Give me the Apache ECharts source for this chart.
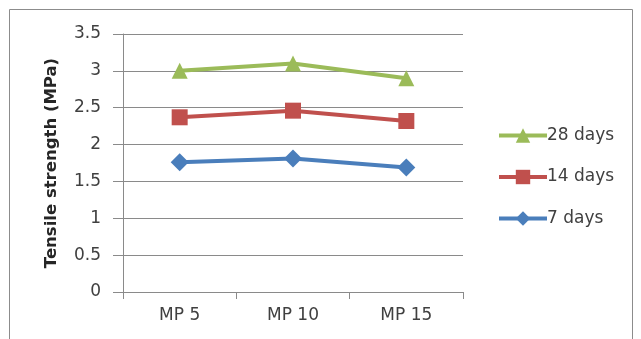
<!DOCTYPE html>
<html>
<head>
<meta charset="utf-8">
<style>
  html, body { margin: 0; padding: 0; background: #ffffff; }
  #chart { width: 641px; height: 339px; }
</style>
<script src="https://cdn.jsdelivr.net/npm/echarts@6/dist/echarts.min.js"></script>
</head>
<body>
<div id="chart"></div>
<script>
// Mix designs along the x axis
const categories = ['MP 5', 'MP 10', 'MP 15'];
// Tensile strength (MPa) by curing age
const days28 = [3.0, 3.1, 2.9];
const days14 = [2.37, 2.46, 2.32];
const days7 = [1.76, 1.81, 1.69];
const yTicks = [0, 0.5, 1, 1.5, 2, 2.5, 3, 3.5];

const textColor = '#404040';
const gridColor = '#8a8a8a';
const font = 'DejaVu Sans';

const chart = echarts.init(document.getElementById('chart'), null, { renderer: 'canvas' });

function lineSeries(name, data, color, symbol, size) {
  return {
    name: name,
    type: 'line',
    data: data,
    symbol: symbol,
    symbolSize: size,
    lineStyle: { color: color, width: 4 },
    itemStyle: { color: color },
    animation: false,
    z: 3
  };
}

chart.setOption({
  animation: false,
  backgroundColor: '#ffffff',
  graphic: [{
    type: 'rect',
    shape: { x: 9.5, y: 9.5, width: 623, height: 340 },
    style: { fill: null, stroke: '#8c8c8c', lineWidth: 1 },
    silent: true
  }],
  grid: { left: 123, right: 178, top: 34, bottom: 47 },
  legend: {
    orient: 'vertical',
    left: 497,
    top: 127,
    padding: 0,
    itemWidth: 48,
    itemHeight: 18,
    itemGap: 24.5,
    data: ['28 days', '14 days', '7 days'],
    lineStyle: { width: 4 },
    textStyle: { fontFamily: font, fontSize: 17, color: textColor, padding: [0, 0, 0, -5] }
  },
  xAxis: {
    type: 'category',
    data: categories,
    boundaryGap: true,
    axisLine: { lineStyle: { color: gridColor, width: 1 } },
    axisTick: { show: true, length: 7, lineStyle: { color: gridColor } },
    axisLabel: { fontFamily: font, fontSize: 17, color: textColor, margin: 15 }
  },
  yAxis: {
    type: 'value',
    min: yTicks[0],
    max: yTicks[yTicks.length - 1],
    interval: 0.5,
    name: 'Tensile strength (MPa)',
    nameLocation: 'middle',
    nameGap: 63,
    nameRotate: 90,
    nameTextStyle: { fontFamily: font, fontSize: 16.5, fontWeight: 'bold', color: '#262626' },
    axisLine: { show: true, lineStyle: { color: gridColor, width: 1 } },
    axisTick: { show: true, length: 10, lineStyle: { color: gridColor } },
    axisLabel: {
      fontFamily: font, fontSize: 17, color: textColor, margin: 22,
      formatter: v => String(v)
    },
    splitLine: { lineStyle: { color: gridColor, width: 1 } }
  },
  series: [
    lineSeries('7 days', days7, '#4a7ebb', 'diamond', 18),
    lineSeries('14 days', days14, '#c0504d', 'rect', 16),
    lineSeries('28 days', days28, '#9bbb59', 'triangle', 16)
  ]
});
</script>
</body>
</html>
